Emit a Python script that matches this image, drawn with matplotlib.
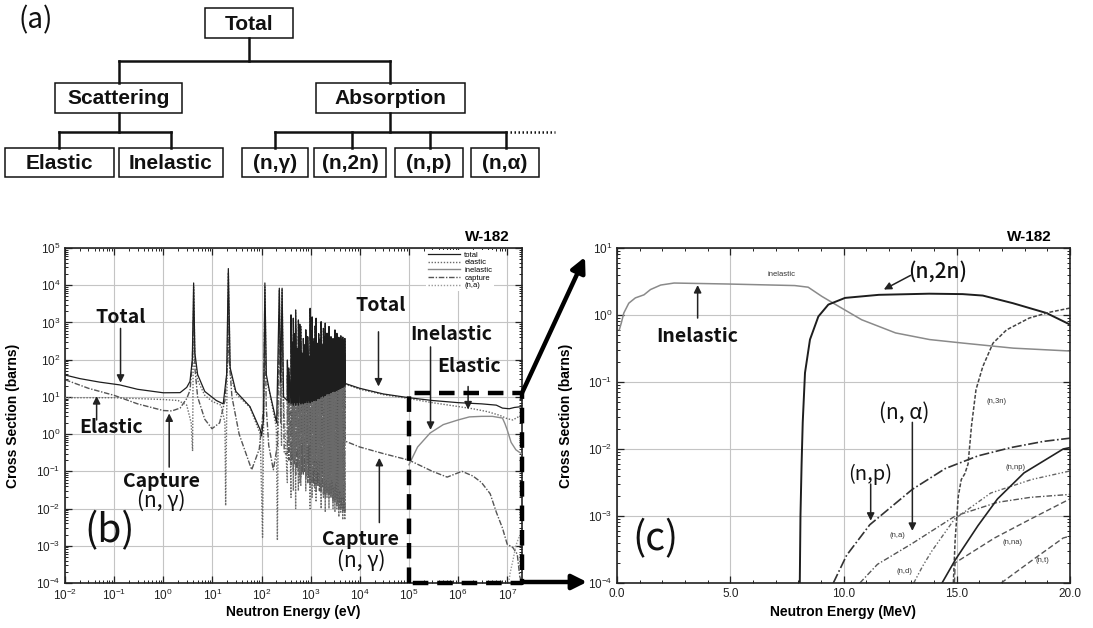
import matplotlib
matplotlib.use('Agg')
import matplotlib.pyplot as plt
import numpy as np
from matplotlib.patches import Rectangle
from matplotlib.ticker import LogLocator, NullFormatter, MultipleLocator, FormatStrFormatter

plt.rcParams['font.family'] = ['Liberation Sans', 'DejaVu Sans']
plt.rcParams['mathtext.fontset'] = 'custom'
plt.rcParams['mathtext.rm'] = 'Liberation Sans'
plt.rcParams['mathtext.it'] = 'Liberation Sans:italic'
plt.rcParams['mathtext.bf'] = 'Liberation Sans:bold'
JP = ['Noto Sans CJK JP', 'DejaVu Sans']

#==============================================================================#
# (a) reaction tree
tree_labels = ['Total', 'Scattering', 'Absorption', 'Elastic', 'Inelastic',
               '(n,γ)', '(n,2n)', '(n,p)', '(n,α)']

# (b) W-182, energy in eV, cross section in barns
tot_E_low = [0.01, 0.02, 0.05, 0.13, 0.3, 1.0, 2.2, 3.0, 3.5, 3.9, 4.15, 4.4, 5.0, 7.0,
             12.0, 16.6, 19.5, 21.1, 23.0, 30.0, 58.0, 94.0, 100.0, 110.0, 117.0, 125.0,
             148.0, 203.0, 230.0, 245.0, 262.0, 280.0]
tot_S_low = [38.7, 31, 25, 21, 16, 12.9, 13, 18, 26, 100, 11500, 150, 40, 14,
             8, 6.5, 40, 28000, 60, 14, 5.5, 1.3, 0.9, 2.5, 11500, 40,
             12.6, 2.0, 8300, 25, 8300, 10]
el_E_low = [0.01, 0.1, 1.0, 2.0, 3.0, 3.7, 3.95, 4.15, 4.4, 5.0, 7.0, 10.0, 15.0, 18.0,
            18.6, 21.1, 23.0, 30.0, 58.0, 94.0, 105.0, 117.0, 125.0, 148.0, 200.0,
            210.0, 230.0, 245.0, 255.0, 262.0, 280.0]
el_S_low = [9.5, 9.5, 8.5, 8.0, 6.0, 2.0, 0.35, 9000, 120, 28, 11, 7.5, 6, 2,
            0.012, 22000, 45, 12, 5.3, 1.0, 0.0017, 9000, 30, 12, 1.5,
            0.0014, 7500, 20, 0.5, 7500, 9]
cap_E_low = [0.01, 0.03, 0.1, 0.3, 1.0, 1.5, 2.2, 3.0, 3.5, 3.9, 4.15, 4.4, 5.0, 7.0,
             9.8, 14.0, 18.0, 20.5, 21.1, 22.0, 25.0, 35.0, 63.0, 90.0, 110.0, 116.0,
             125.0, 140.0, 174.0, 210.0, 230.0, 245.0, 262.0, 290.0]
cap_S_low = [29, 17, 11, 6.5, 4.3, 4.2, 5, 9, 15, 80, 2000, 60, 10, 2.5,
             1.4, 2, 8, 100, 4000, 100, 10, 1, 0.11, 0.4, 5, 2500,
             5, 0.5, 0.11, 0.5, 1500, 2, 1500, 0.3]

# resolved resonance forest (300 eV - 5 keV)
res_E = [335, 360, 398, 420, 444, 470, 495, 530, 562, 600, 630, 670, 710, 750, 795,
         835, 870, 920, 975, 1020, 1070, 1125, 1180, 1235, 1290, 1345, 1400, 1455,
         1510, 1570, 1630, 1720, 1820, 1900, 1980, 2060, 2150, 2250, 2360, 2470,
         2590, 2720, 2850, 2980, 3120, 3270, 3420, 3580, 3750, 3920, 4100, 4300,
         4500, 4720, 4950]
res_tot_pk = [98, 60, 1600, 300, 1300, 500, 2150, 200, 1170, 900, 775, 150, 370, 250, 630,
              400, 415, 120, 2400, 600, 1400, 300, 370, 800, 1300, 200, 275, 500,
              180, 350, 1050, 250, 690, 400, 950, 300, 510, 350, 775, 300,
              415, 250, 370, 300, 630, 280, 510, 320, 400, 300, 435, 350,
              400, 330, 370]
res_tot_lo = [8, 7, 6.5, 7, 6, 7, 6, 7, 6, 7,
              6.5, 7, 6.5, 7, 7, 8, 7, 8, 7, 8,
              7.5, 8, 8, 9, 8, 9, 9, 10, 9, 10,
              10, 11, 10, 11, 11, 12, 12, 13, 12, 13,
              13, 14, 14, 15, 14, 15, 15, 16, 16, 17,
              17, 18, 18, 19, 20]
res_el_lo = [0.05, 0.5, 0.02, 0.3, 0.03, 0.2, 0.01, 0.4, 0.03, 0.05,
             0.04, 0.6, 0.1, 0.3, 0.03, 0.08, 0.05, 0.5, 0.01, 0.06,
             0.02, 0.1, 0.2, 0.03, 0.015, 0.2, 0.1, 0.04, 0.2, 0.05,
             0.01, 0.1, 0.02, 0.05, 0.008, 0.06, 0.02, 0.04, 0.01, 0.05,
             0.02, 0.06, 0.01, 0.04, 0.008, 0.05, 0.01, 0.03, 0.006, 0.03,
             0.008, 0.02, 0.005, 0.02, 0.005]
res_cap_pk = [40, 20, 600, 100, 500, 200, 800, 80, 450, 350,
              300, 60, 150, 100, 250, 160, 170, 50, 900, 250,
              550, 120, 150, 300, 500, 80, 110, 200, 70, 140,
              400, 100, 280, 160, 380, 120, 200, 140, 300, 120,
              170, 100, 150, 120, 250, 110, 200, 130, 160, 120,
              170, 140, 160, 130, 150]
res_cap_lo = [0.3, 0.2, 0.15, 0.2, 0.1, 0.15, 0.08, 0.12, 0.1, 0.08,
              0.07, 0.1, 0.08, 0.1, 0.06, 0.08, 0.05, 0.07, 0.04, 0.06,
              0.05, 0.06, 0.04, 0.05, 0.03, 0.05, 0.04, 0.05, 0.03, 0.04,
              0.03, 0.04, 0.025, 0.03, 0.02, 0.03, 0.025, 0.03, 0.02, 0.025,
              0.02, 0.025, 0.015, 0.02, 0.015, 0.02, 0.012, 0.015, 0.01, 0.015,
              0.01, 0.012, 0.008, 0.01, 0.008]

tot_E_hi = [5000, 1e4, 3e4, 1e5, 3e5, 1e6, 3e6, 6e6, 8e6, 1.1e7, 1.4e7, 2e7]
tot_S_hi = [23, 17, 12, 9.5, 8, 7, 6.5, 6, 5, 4.8, 5.2, 5.5]
el_E_hi = [5000, 1e4, 3e4, 1e5, 3e5, 1e6, 2e6, 4e6, 7e6, 1e7, 1.3e7, 1.6e7, 2e7]
el_S_hi = [22, 16, 11.5, 9, 7, 5.5, 4.8, 4, 3.2, 2.6, 2.4, 2.8, 3.3]
cap_E_hi = [5000, 1e4, 3e4, 1e5, 3e5, 6e5, 1.2e6, 2e6, 3e6, 4.5e6, 6e6, 8e6, 1e7,
            1.3e7, 1.6e7, 1.8e7, 2e7]
cap_S_hi = [0.65, 0.45, 0.3, 0.2, 0.1, 0.07, 0.1, 0.075, 0.05, 0.025, 0.008, 0.003, 0.0011,
            0.0009, 0.0006, 0.00015, 0.0001]
inel_E = [1e5, 1.5e5, 2.7e5, 5e5, 1e6, 1.7e6, 3e6, 5e6, 8e6, 9e6, 1e7, 1.2e7, 1.5e7, 2e7]
inel_S = [0.15, 0.45, 1.07, 1.8, 2.4, 2.9, 3.0, 3.0, 2.7, 1.9, 1.3, 0.6, 0.38, 0.29]
na_E = [1.07e7, 1.15e7, 1.3e7, 1.5e7, 1.7e7, 2e7]
na_S = [1e-4, 1.9e-4, 3.9e-4, 1e-3, 1.6e-3, 2.1e-3]

# (c) energy in MeV
c_inel_E = [0.1, 0.19, 0.3, 0.52, 0.81, 1.19, 1.48, 1.93, 2.52, 4.9, 7.85, 8.44, 9.04,
            9.78, 10.8, 12.3, 13.8, 15.3, 17.5, 20.0]
c_inel_S = [0.6, 0.76, 1.07, 1.5, 1.8, 2.0, 2.4, 2.8, 3.0, 2.9, 2.75, 2.6, 1.9,
            1.35, 0.85, 0.54, 0.43, 0.38, 0.32, 0.29]
c_n2n_E = [8.07, 8.1, 8.15, 8.2, 8.3, 8.52, 8.89, 9.33, 10.07, 11.56, 13.78, 15.26, 16.15,
           17.48, 18.96, 20.0]
c_n2n_S = [1e-4, 1e-3, 6e-3, 0.025, 0.137, 0.43, 0.95, 1.43, 1.8, 2.0, 2.08, 2.05, 1.95,
           1.5, 1.07, 0.72]
c_n3n_E = [14.85, 14.93, 15.07, 15.2, 15.36, 15.5, 15.65, 15.85, 16.15, 16.6, 17.2, 18.2,
           19.1, 20.0]
c_n3n_S = [1e-4, 4.5e-4, 2e-3, 3.5e-3, 4.3e-3, 6e-3, 0.022, 0.077, 0.17, 0.38, 0.6, 0.9,
           1.1, 1.27]
c_np_E = [9.55, 10.14, 11.16, 13.04, 14.49, 15.94, 17.39, 18.84, 20.0]
c_np_S = [1e-4, 2.6e-4, 7.4e-4, 2.5e-3, 5.1e-3, 7.9e-3, 1.05e-2, 1.3e-2, 1.45e-2]
c_na_E = [10.72, 11.5, 13.04, 14.93, 16.8, 18.26, 20.0]
c_na_S = [1e-4, 1.9e-4, 3.9e-4, 1e-3, 1.6e-3, 1.9e-3, 2.1e-3]
c_nd_E = [13.1, 13.5, 13.9, 14.9, 16.5, 18.3, 20.0]
c_nd_S = [1e-4, 1.8e-4, 3e-4, 9e-4, 2.2e-3, 3.5e-3, 4.7e-3]
c_nnp_E = [14.35, 14.93, 15.94, 16.8, 17.97, 19.7, 20.0]
c_nnp_S = [1e-4, 2.2e-4, 7.2e-4, 1.8e-3, 4.4e-3, 1e-2, 1.05e-2]
c_nna_E = [14.9, 14.93, 16.67, 18.26, 20.0]
c_nna_S = [1e-4, 2e-4, 4.7e-4, 9e-4, 1.8e-3]
c_nt_E = [16.96, 18.26, 19.7, 20.0]
c_nt_S = [1e-4, 2.1e-4, 4.7e-4, 5e-4]
#==============================================================================#


def spikes(E, lo, hi):
    # each resonance drawn from its trough up to its peak
    return np.repeat(E, 2), np.column_stack([lo, hi]).ravel()


def style_log_axis(ax):
    ax.set_yscale('log')
    ax.yaxis.set_major_locator(LogLocator(base=10, numticks=20))
    ax.yaxis.set_minor_locator(LogLocator(base=10, subs=np.arange(2, 10), numticks=20))
    ax.yaxis.set_minor_formatter(NullFormatter())
    ax.grid(True, which='major', color='#c4c4c4', lw=0.8)
    ax.set_axisbelow(True)
    ax.tick_params(which='both', direction='in', top=True, right=True, labelsize=8.5,
                   colors='#222')
    ax.tick_params(which='major', length=5, width=0.9)
    ax.tick_params(which='minor', length=2.5, width=0.7)
    for s in ax.spines.values():
        s.set_linewidth(1.2)
        s.set_color('#222')
    ax.set_ylabel('Cross Section (barns)', fontweight='bold', fontsize=10)
    ax.yaxis.set_label_coords(-0.098, 0.5)
    ax.xaxis.set_label_coords(0.5, -0.066)


def arrow(ax, tail, tip):
    ax.annotate('', xy=tip, xytext=tail,
                arrowprops=dict(arrowstyle='-|>', lw=1.1, color='#222',
                                mutation_scale=11, shrinkA=0, shrinkB=0))


fig = plt.figure(figsize=(10.93, 6.28), dpi=100)

#------------------------------------------------------------------------------# (b)
ax_b = fig.add_axes([65 / 1093, 45 / 628, 457 / 1093, 335 / 628])
ax_b.set_xscale('log')
style_log_axis(ax_b)
ax_b.xaxis.set_major_locator(LogLocator(base=10, numticks=20))
ax_b.xaxis.set_minor_locator(LogLocator(base=10, subs=np.arange(2, 10), numticks=20))
ax_b.xaxis.set_minor_formatter(NullFormatter())

fE, fT = spikes(res_E, res_tot_lo, res_tot_pk)
_, fEl = spikes(res_E, res_el_lo, res_tot_pk)
_, fC = spikes(res_E, res_cap_lo, res_cap_pk)

ax_b.plot(np.concatenate([tot_E_low, fE, tot_E_hi]), np.concatenate([tot_S_low, fT, tot_S_hi]),
          color='#1e1e1e', lw=0.9, label='total', zorder=4)
ax_b.plot(np.concatenate([el_E_low, fE, el_E_hi]), np.concatenate([el_S_low, fEl, el_S_hi]),
          color='#6a6a6a', lw=1.0, ls=(0, (1, 1.2)), label='elastic', zorder=3)
ax_b.plot(inel_E, inel_S, color='#8a8a8a', lw=1.0, label='inelastic', zorder=3)
ax_b.plot(np.concatenate([cap_E_low, fE, cap_E_hi]), np.concatenate([cap_S_low, fC, cap_S_hi]),
          color='#555555', lw=1.0, ls=(0, (4, 1.2, 1, 1.2)), label='capture', zorder=2)
ax_b.plot(na_E, na_S, color='#9a9a9a', lw=1.0, ls=(0, (1, 1.2)), label='(n,a)', zorder=2)

ax_b.set_xlim(1e-2, 2e7)
ax_b.set_ylim(1e-4, 1e5)
ax_b.set_xlabel('Neutron Energy (eV)', fontweight='bold', fontsize=10)
leg = ax_b.legend(loc='upper left', bbox_to_anchor=(0.79, 0.995), fontsize=5.5, handlelength=4.2,
                  labelspacing=0.05, borderpad=0.2, borderaxespad=0, handletextpad=0.6,
                  frameon=True, framealpha=1, edgecolor='none', fancybox=False)
ax_b.text(0.974, 1.012, 'W-182', transform=ax_b.transAxes, ha='right', va='bottom',
          fontweight='bold', fontsize=11)

# zoom box
ax_b.plot([1e5, 1e5, 2e7, 2e7, 1e5], [1e-4, 13, 13, 1e-4, 1e-4], color='k', lw=3.2,
          ls=(0, (3.5, 2)), clip_on=False, zorder=6)

big = dict(fontsize=14, fontweight='bold', family=JP, ha='center', va='center', color='#111')
small = dict(fontsize=15, family=JP, ha='center', va='center', color='#111')
ax_b.text(0.133, 1400, 'Total', **big)
arrow(ax_b, (0.135, 690), (0.135, 24))
ax_b.text(0.087, 1.55, 'Elastic', **big)
arrow(ax_b, (0.044, 2.4), (0.044, 10.5))
ax_b.text(0.91, 0.053, 'Capture', **big)
ax_b.text(0.91, 0.016, '(n, γ)', **small)
arrow(ax_b, (1.32, 0.13), (1.32, 3.6))
ax_b.text(0.08, 2.5e-3, '(b)', fontsize=28, family=JP, ha='center', va='center', color='#111')
ax_b.text(2.6e4, 2900, 'Total', **big)
arrow(ax_b, (2.4e4, 560), (2.4e4, 19))
ax_b.text(1.05e4, 1.5e-3, 'Capture', **big)
ax_b.text(1.05e4, 3.9e-4, '(n, γ)', **small)
arrow(ax_b, (2.5e4, 4.2e-3), (2.5e4, 0.23))
ax_b.text(7.4e5, 460, 'Inelastic', **big)
arrow(ax_b, (2.75e5, 220), (2.75e5, 1.3))
ax_b.text(1.7e6, 65, 'Elastic', **big)
arrow(ax_b, (1.6e6, 19), (1.6e6, 4.6))

#------------------------------------------------------------------------------# (c)
ax_c = fig.add_axes([617 / 1093, 45 / 628, 453 / 1093, 335 / 628])
style_log_axis(ax_c)
ax_c.plot(c_inel_E, c_inel_S, color='#8a8a8a', lw=1.1)
ax_c.plot(c_n2n_E, c_n2n_S, color='#1e1e1e', lw=1.4)
ax_c.plot(c_n3n_E, c_n3n_S, color='#444444', lw=1.1, ls=(0, (2.5, 1.2)))
ax_c.plot(c_np_E, c_np_S, color='#333333', lw=1.2, ls=(0, (6, 1.5, 1, 1.5)))
ax_c.plot(c_na_E, c_na_S, color='#555555', lw=1.0, ls=(0, (4, 1.5, 1, 1.5)))
ax_c.plot(c_nd_E, c_nd_S, color='#666666', lw=1.0, ls=(0, (3, 1.5, 1, 1.5, 1, 1.5)))
ax_c.plot(c_nnp_E, c_nnp_S, color='#222222', lw=1.2)
ax_c.plot(c_nna_E, c_nna_S, color='#555555', lw=1.0, ls=(0, (4, 2)))
ax_c.plot(c_nt_E, c_nt_S, color='#555555', lw=1.0, ls=(0, (4, 2)))
ax_c.set_xlim(0, 20)
ax_c.set_ylim(1e-4, 10)
ax_c.xaxis.set_major_locator(MultipleLocator(5))
ax_c.xaxis.set_minor_locator(MultipleLocator(1))
ax_c.xaxis.set_major_formatter(FormatStrFormatter('%.1f'))
ax_c.set_xlabel('Neutron Energy (MeV)', fontweight='bold', fontsize=10)
ax_c.text(0.96, 1.012, 'W-182', transform=ax_c.transAxes, ha='right', va='bottom',
          fontweight='bold', fontsize=11)

tiny = dict(fontsize=5.5, ha='center', va='center', color='#333')
ax_c.text(7.26, 4.0, 'inelastic', **tiny)
ax_c.text(16.74, 0.052, '(n,3n)', **tiny)
ax_c.text(17.6, 5.3e-3, '(n,np)', **tiny)
ax_c.text(12.4, 5.1e-4, '(n,a)', **tiny)
ax_c.text(12.68, 1.5e-4, '(n,d)', **tiny)
ax_c.text(17.46, 4e-4, '(n,na)', **tiny)
ax_c.text(18.77, 2.2e-4, '(n,t)', **tiny)

ax_c.text(3.56, 0.48, 'Inelastic', **big)
arrow(ax_c, (3.56, 0.9), (3.56, 2.8))
ax_c.text(14.15, 4.5, '(n,2n)', fontsize=15, family=JP, fontweight='medium',
          ha='center', va='center', color='#111')
arrow(ax_c, (12.96, 3.9), (11.78, 2.4))
ax_c.text(12.7, 0.035, '(n, α)', **small)
arrow(ax_c, (13.04, 0.025), (13.04, 6e-4))
ax_c.text(11.2, 4.2e-3, '(n,p)', fontsize=14.5, family=JP, ha='center', va='center',
          color='#111')
arrow(ax_c, (11.2, 3.0e-3), (11.2, 8.5e-4))
ax_c.text(1.7, 4.5e-4, '(c)', fontsize=28, family=JP, ha='center', va='center', color='#111')

#------------------------------------------------------------------------------# (a) + links
ov = fig.add_axes([0, 0, 1, 1], zorder=10)
ov.set_xlim(0, 1093)
ov.set_ylim(628, 0)
ov.axis('off')
ov.patch.set_alpha(0)

box_x0 = [205, 55, 316, 5, 119, 242, 314, 395, 471]
box_x1 = [293, 182, 465, 114, 223, 308, 386, 463, 539]
box_y0 = [8, 83, 83, 148, 148, 148, 148, 148, 148]
box_y1 = [38, 113, 113, 177, 177, 177, 177, 177, 177]
for lab, x0, x1, y0, y1 in zip(tree_labels, box_x0, box_x1, box_y0, box_y1):
    ov.add_patch(Rectangle((x0, y0), x1 - x0, y1 - y0, fill=False, ec='#111', lw=1.1))
    ov.text((x0 + x1) / 2, (y0 + y1) / 2 + 1, lab, ha='center', va='center',
            fontsize=15, fontweight='bold', color='#111')

tree_lines = [((249, 38), (249, 61)), ((119, 61), (390, 61)), ((119, 61), (119, 83)),
              ((390, 61), (390, 83)), ((119, 113), (119, 132)), ((59, 132), (171, 132)),
              ((59, 132), (59, 148)), ((171, 132), (171, 148)), ((390, 113), (390, 132)),
              ((275, 132), (506, 132)), ((275, 132), (275, 148)), ((352, 132), (352, 148)),
              ((430, 132), (430, 148)), ((506, 132), (506, 148))]
for (xa, ya), (xb, yb) in tree_lines:
    ov.plot([xa, xb], [ya, yb], color='#111', lw=1.8, solid_capstyle='projecting')
ov.plot([510, 555], [132, 132], color='#111', lw=1.8, ls=(0, (0.6, 1.0)))
ov.text(36, 20, '(a)', fontsize=20, family=JP, ha='center', va='center', color='#111')

ov.annotate('', xy=(585, 257), xytext=(522, 393),
            arrowprops=dict(arrowstyle='-|>', lw=3.2, color='k', mutation_scale=22,
                            shrinkA=0, shrinkB=0))
ov.annotate('', xy=(587, 582), xytext=(522, 582),
            arrowprops=dict(arrowstyle='-|>', lw=3.2, color='k', mutation_scale=22,
                            shrinkA=0, shrinkB=0))

fig.savefig('out.png', dpi=100, facecolor='white')
